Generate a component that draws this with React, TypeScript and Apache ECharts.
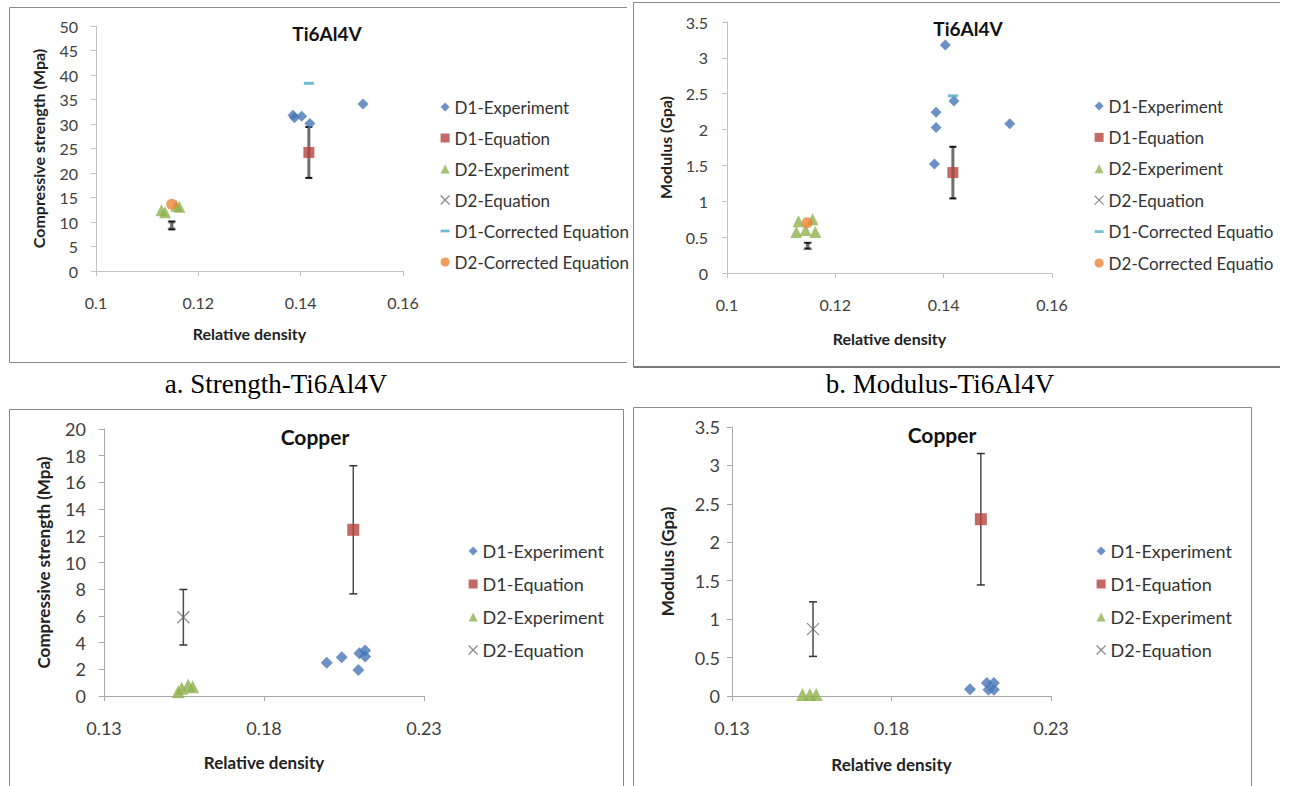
import React, { useEffect, useRef } from 'react';
import * as echarts from 'echarts';

const FONT = 'Lato, "Open Sans", sans-serif';
const SERIF = '"Liberation Serif", "Times New Roman", serif';

// ---------- names ----------
const SERIES_NAMES = [
  'D1-Experiment',
  'D1-Equation',
  'D2-Experiment',
  'D2-Equation',
  'D1-Corrected Equation',
  'D2-Corrected Equation',
];
const COPPER_NAMES = SERIES_NAMES.slice(0, 4);

// ---------- axis ranges [min, max, interval] ----------
const TI_X_RANGE = [0.1, 0.16, 0.02];
const CU_X_RANGE = [0.13, 0.23, 0.05];
const TI_STR_Y_RANGE = [0, 50, 5];
const TI_MOD_Y_RANGE = [0, 3.5, 0.5];
const CU_STR_Y_RANGE = [0, 20, 2];
const CU_MOD_Y_RANGE = [0, 3.5, 0.5];

// ---------- a. Strength - Ti6Al4V ----------
const TI_STR_D1_EXP = [[0.1385, 31.8], [0.1388, 31.3], [0.1402, 31.6], [0.1418, 30.1], [0.1522, 34.1]];
const TI_STR_D1_EQ = [[0.1416, 24.2]];
const TI_STR_D1_EQ_ERR = [5.2];
const TI_STR_D2_EXP = [[0.1128, 12.4], [0.1135, 12.0], [0.1157, 13.3], [0.1163, 13.1]];
const TI_STR_D2_EQ = [[0.1148, 9.3]];
const TI_STR_D2_EQ_ERR = [0.8];
const TI_STR_D1_COR = [[0.1416, 38.3]];
const TI_STR_D2_COR = [[0.1148, 13.6]];

// ---------- b. Modulus - Ti6Al4V ----------
const TI_MOD_D1_EXP = [[0.1403, 3.18], [0.1419, 2.4], [0.1386, 2.24], [0.1386, 2.03], [0.1522, 2.08], [0.1383, 1.52]];
const TI_MOD_D1_EQ = [[0.1417, 1.4]];
const TI_MOD_D1_EQ_ERR = [0.36];
const TI_MOD_D2_EXP = [[0.1132, 0.72], [0.1158, 0.75], [0.1128, 0.57], [0.1163, 0.57], [0.1145, 0.6]];
const TI_MOD_D2_EQ = [[0.1149, 0.38]];
const TI_MOD_D2_EQ_ERR = [0.04];
const TI_MOD_D1_COR = [[0.1417, 2.47]];
const TI_MOD_D2_COR = [[0.1148, 0.7]];

// ---------- c. Strength - Copper ----------
const CU_STR_D1_EXP = [[0.1996, 2.5], [0.2043, 2.9], [0.2098, 3.2], [0.2116, 3.4], [0.2116, 2.95], [0.2095, 1.95]];
const CU_STR_D1_EQ = [[0.2079, 12.45]];
const CU_STR_D1_EQ_ERR = [4.8];
const CU_STR_D2_EXP = [[0.1532, 0.32], [0.1543, 0.58], [0.1563, 0.82], [0.1577, 0.7]];
const CU_STR_D2_EQ = [[0.1548, 5.9]];
const CU_STR_D2_EQ_ERR = [2.08];

// ---------- d. Modulus - Copper ----------
const CU_MOD_D1_EXP = [[0.2046, 0.087], [0.2099, 0.17], [0.2121, 0.17], [0.2104, 0.08], [0.2121, 0.08]];
const CU_MOD_D1_EQ = [[0.208, 2.3]];
const CU_MOD_D1_EQ_ERR = [0.855];
const CU_MOD_D2_EXP = [[0.1521, 0.02], [0.1544, 0.02], [0.1564, 0.02]];
const CU_MOD_D2_EQ = [[0.1554, 0.87]];
const CU_MOD_D2_EQ_ERR = [0.355];

// ---------- captions / titles ----------
const CAPTIONS = ['a. Strength-Ti6Al4V', 'b. Modulus-Ti6Al4V'];
const TITLES = ['Ti6Al4V', 'Ti6Al4V', 'Copper', 'Copper'];
const Y_NAMES = ['Compressive strength (Mpa)', 'Modulus (Gpa)', 'Compressive strength (Mpa)', 'Modulus (Gpa)'];
const X_NAME = 'Relative density';

// ---------- styles ----------
const C_BLUE = '#4676b6';
const C_RED = '#b6443f';
const C_GREEN = '#8fb24f';
const C_GRAY = '#6b6b6b';
const C_CYAN = '#4babc6';
const C_ORANGE = '#ec8537';
const X_PATH = 'path://M0,0L10,10M10,0L0,10';
const DASH_PATH = 'path://M0,0M0,3.5h10v3h-10zM10,10';

const errData = (pts: number[][], errs: number[]) =>
  pts.map((p, i) => [p[0], p[1] - errs[i], p[1] + errs[i]]);

const fmt = (v: number) => String(+v.toFixed(2));

function makeErrRender(stem: string, cap: string, stemW: number, capW: number, half: number) {
  return (params: any, api: any) => {
    const x = api.value(0);
    const lo = api.value(1);
    const hi = api.value(2);
    const t = api.coord([x, hi]);
    const b = api.coord([x, lo]);
    return {
      type: 'group',
      children: [
        { type: 'line', shape: { x1: t[0], y1: t[1], x2: b[0], y2: b[1] }, style: { stroke: stem, lineWidth: stemW } },
        { type: 'line', shape: { x1: t[0] - half, y1: t[1], x2: t[0] + half, y2: t[1] }, style: { stroke: cap, lineWidth: capW } },
        { type: 'line', shape: { x1: b[0] - half, y1: b[1], x2: b[0] + half, y2: b[1] }, style: { stroke: cap, lineWidth: capW } },
      ],
    };
  };
}

const PANELS = [
  {
    grid: { left: 96, top: 26, width: 307, height: 245 },
    xr: TI_X_RANGE, yr: TI_STR_Y_RANGE,
    title: [327, 33, 19],
    small: true,
    d1exp: TI_STR_D1_EXP, d1eq: TI_STR_D1_EQ, d1err: TI_STR_D1_EQ_ERR,
    d2exp: TI_STR_D2_EXP, d2eq: TI_STR_D2_EQ, d2err: TI_STR_D2_EQ_ERR,
    d1cor: TI_STR_D1_COR, d2cor: TI_STR_D2_COR,
    names: SERIES_NAMES,
    legend: { left: 440, top: 97, font: 17, lh: 20, gap: 11, clip: 176 },
    gaps: { yName: 50, xName: 54, yLab: 18, xLab: 23 },
  },
  {
    grid: { left: 727, top: 22, width: 325, height: 251 },
    xr: TI_X_RANGE, yr: TI_MOD_Y_RANGE,
    title: [968, 28, 19],
    small: true,
    d1exp: TI_MOD_D1_EXP, d1eq: TI_MOD_D1_EQ, d1err: TI_MOD_D1_EQ_ERR,
    d2exp: TI_MOD_D2_EXP, d2eq: TI_MOD_D2_EQ, d2err: TI_MOD_D2_EQ_ERR,
    d1cor: TI_MOD_D1_COR, d2cor: TI_MOD_D2_COR,
    names: SERIES_NAMES,
    legend: { left: 1094, top: 96, font: 17, lh: 20, gap: 11.4, clip: 172 },
    gaps: { yName: 54, xName: 57, yLab: 19, xLab: 23 },
  },
  {
    grid: { left: 104, top: 429, width: 320, height: 267 },
    xr: CU_X_RANGE, yr: CU_STR_Y_RANGE,
    title: [315, 436, 21],
    small: false,
    d1exp: CU_STR_D1_EXP, d1eq: CU_STR_D1_EQ, d1err: CU_STR_D1_EQ_ERR,
    d2exp: CU_STR_D2_EXP, d2eq: CU_STR_D2_EQ, d2err: CU_STR_D2_EQ_ERR,
    d1cor: null, d2cor: null,
    names: COPPER_NAMES,
    legend: { left: 468, top: 541, font: 18, lh: 20, gap: 13, clip: 0 },
    gaps: { yName: 52, xName: 58, yLab: 18, xLab: 23 },
  },
  {
    grid: { left: 732, top: 427, width: 319, height: 269 },
    xr: CU_X_RANGE, yr: CU_MOD_Y_RANGE,
    title: [942, 434, 21],
    small: false,
    d1exp: CU_MOD_D1_EXP, d1eq: CU_MOD_D1_EQ, d1err: CU_MOD_D1_EQ_ERR,
    d2exp: CU_MOD_D2_EXP, d2eq: CU_MOD_D2_EQ, d2err: CU_MOD_D2_EQ_ERR,
    d1cor: null, d2cor: null,
    names: COPPER_NAMES,
    legend: { left: 1096, top: 541, font: 18, lh: 20, gap: 13, clip: 0 },
    gaps: { yName: 56, xName: 60, yLab: 12, xLab: 23 },
  },
];

function buildOption() {
  const grid: any[] = [];
  const xAxis: any[] = [];
  const yAxis: any[] = [];
  const series: any[] = [];
  const legend: any[] = [];
  const graphic: any[] = [];

  PANELS.forEach((p, i) => {
    const axisColor = p.small ? '#c2c2c2' : '#a9a9a9';
    const labFont = p.small ? 16 : 18;
    const nameFont = p.small ? 16 : 17;
    grid.push({ ...p.grid });
    xAxis.push({
      type: 'value', gridIndex: i,
      min: p.xr[0], max: p.xr[1], interval: p.xr[2],
      name: X_NAME, nameLocation: 'middle', nameGap: p.gaps.xName,
      nameTextStyle: { fontFamily: FONT, fontWeight: 'bold', fontSize: nameFont, color: '#222' },
      axisLine: { show: true, onZero: false, lineStyle: { color: axisColor, width: 1 } },
      axisTick: { show: true, length: 5, lineStyle: { color: axisColor } },
      axisLabel: { margin: p.gaps.xLab, fontFamily: FONT, fontSize: labFont, color: '#404040', formatter: fmt },
      splitLine: { show: false },
    });
    yAxis.push({
      type: 'value', gridIndex: i,
      min: p.yr[0], max: p.yr[1], interval: p.yr[2],
      name: Y_NAMES[i], nameLocation: 'middle', nameGap: p.gaps.yName, nameRotate: 90,
      nameTextStyle: { fontFamily: FONT, fontWeight: 'bold', fontSize: nameFont, color: '#222' },
      axisLine: { show: true, onZero: false, lineStyle: { color: axisColor, width: 1 } },
      axisTick: { show: true, length: 5, lineStyle: { color: axisColor } },
      axisLabel: { margin: p.gaps.yLab, fontFamily: FONT, fontSize: labFont, color: '#404040', formatter: fmt },
      splitLine: { show: false },
    });

    const common = { type: 'scatter', xAxisIndex: i, yAxisIndex: i, z: 3 };
    const big = p.small ? 0 : 1;
    series.push({ ...common, name: SERIES_NAMES[0], data: p.d1exp, symbol: 'diamond', symbolSize: 11 + big, itemStyle: { color: C_BLUE } });
    series.push({ ...common, name: SERIES_NAMES[1], data: p.d1eq, symbol: 'rect', symbolSize: 11 + big, itemStyle: { color: C_RED } });
    series.push({ ...common, name: SERIES_NAMES[2], data: p.d2exp, symbol: 'triangle', symbolSize: 12 + big, itemStyle: { color: C_GREEN } });
    series.push({ ...common, name: SERIES_NAMES[3], data: p.d2eq, symbol: X_PATH, symbolSize: p.small ? 8 : 12, itemStyle: { color: C_GRAY, borderColor: C_GRAY, borderWidth: 1.2 } });
    if (p.d1cor) series.push({ ...common, name: SERIES_NAMES[4], data: p.d1cor, symbol: DASH_PATH, symbolSize: 10, itemStyle: { color: C_CYAN } });
    if (p.d2cor) series.push({ ...common, name: SERIES_NAMES[5], data: p.d2cor, symbol: 'circle', symbolSize: 11, itemStyle: { color: C_ORANGE } });

    const render = p.small
      ? makeErrRender('#6e6e6e', '#111', 3, 2, 3.5)
      : makeErrRender('#4a4a4a', '#333', 1.5, 1.5, 4);
    series.push({
      type: 'custom', name: 'error-bars-' + i, xAxisIndex: i, yAxisIndex: i, z: 2,
      renderItem: render,
      encode: { x: 0, y: [1, 2] },
      data: [...errData(p.d1eq, p.d1err), ...errData(p.d2eq, p.d2err)],
      silent: true,
    });

    const textStyle: any = { fontFamily: FONT, fontSize: p.legend.font, color: '#333', lineHeight: p.legend.lh };
    if (p.legend.clip) {
      textStyle.width = p.legend.clip;
      textStyle.overflow = 'truncate';
      textStyle.ellipsis = '';
    }
    legend.push({
      orient: 'vertical', left: p.legend.left, top: p.legend.top, padding: 0,
      itemWidth: 9, itemHeight: 9, itemGap: p.legend.gap,
      data: p.names.map((n) =>
        n === 'D2-Equation' ? { name: n, itemStyle: { borderWidth: 1.2, borderColor: C_GRAY } } : { name: n }
      ),
      textStyle,
      selectedMode: false,
    });

    graphic.push({
      type: 'text', x: p.title[0], y: p.title[1],
      style: { text: TITLES[i], fontFamily: FONT, fontWeight: 'bold', fontSize: p.title[2], fill: '#111', align: 'center', verticalAlign: 'middle' },
    });
  });

  const frame = (x1: number, y1: number, x2: number, y2: number, w = 1, c = '#8a8a8a') => ({
    type: 'line', shape: { x1, y1, x2, y2 }, style: { stroke: c, lineWidth: w }, silent: true,
  });
  // panel a frame
  graphic.push(frame(9.5, 7.5, 9.5, 362.5));
  graphic.push(frame(9.5, 7.5, 627, 7.5));
  graphic.push(frame(9.5, 362.5, 627, 362.5));
  // panel b frame
  graphic.push(frame(633.5, 2.5, 633.5, 367));
  graphic.push(frame(633.5, 2.5, 1280, 2.5));
  graphic.push(frame(633.5, 367, 1280, 367, 2, '#7a7a7a'));
  // panel c frame
  graphic.push(frame(9.5, 409.5, 9.5, 786));
  graphic.push(frame(9.5, 409.5, 623.5, 409.5));
  graphic.push(frame(623.5, 409.5, 623.5, 786));
  // panel d frame
  graphic.push(frame(633.5, 407.5, 633.5, 786));
  graphic.push(frame(633.5, 407.5, 1251.5, 407.5));
  graphic.push(frame(1251.5, 407.5, 1251.5, 786));

  graphic.push({
    type: 'text', x: 276, y: 384,
    style: { text: CAPTIONS[0], fontFamily: SERIF, fontSize: 27, fill: '#000', align: 'center', verticalAlign: 'middle' },
  });
  graphic.push({
    type: 'text', x: 940, y: 384,
    style: { text: CAPTIONS[1], fontFamily: SERIF, fontSize: 27, fill: '#000', align: 'center', verticalAlign: 'middle' },
  });

  return {
    animation: false,
    backgroundColor: '#ffffff',
    textStyle: { fontFamily: FONT },
    grid, xAxis, yAxis, series, legend, graphic,
  };
}

export default function App() {
  const ref = useRef<HTMLDivElement>(null);
  useEffect(() => {
    if (!ref.current) return;
    const chart = echarts.init(ref.current, null, { renderer: 'svg' });
    chart.setOption(buildOption() as any);
    return () => chart.dispose();
  }, []);
  return (
    <div
      ref={ref}
      style={{ position: 'absolute', left: 0, top: 0, width: 1292, height: 786, background: '#fff' }}
    />
  );
}
